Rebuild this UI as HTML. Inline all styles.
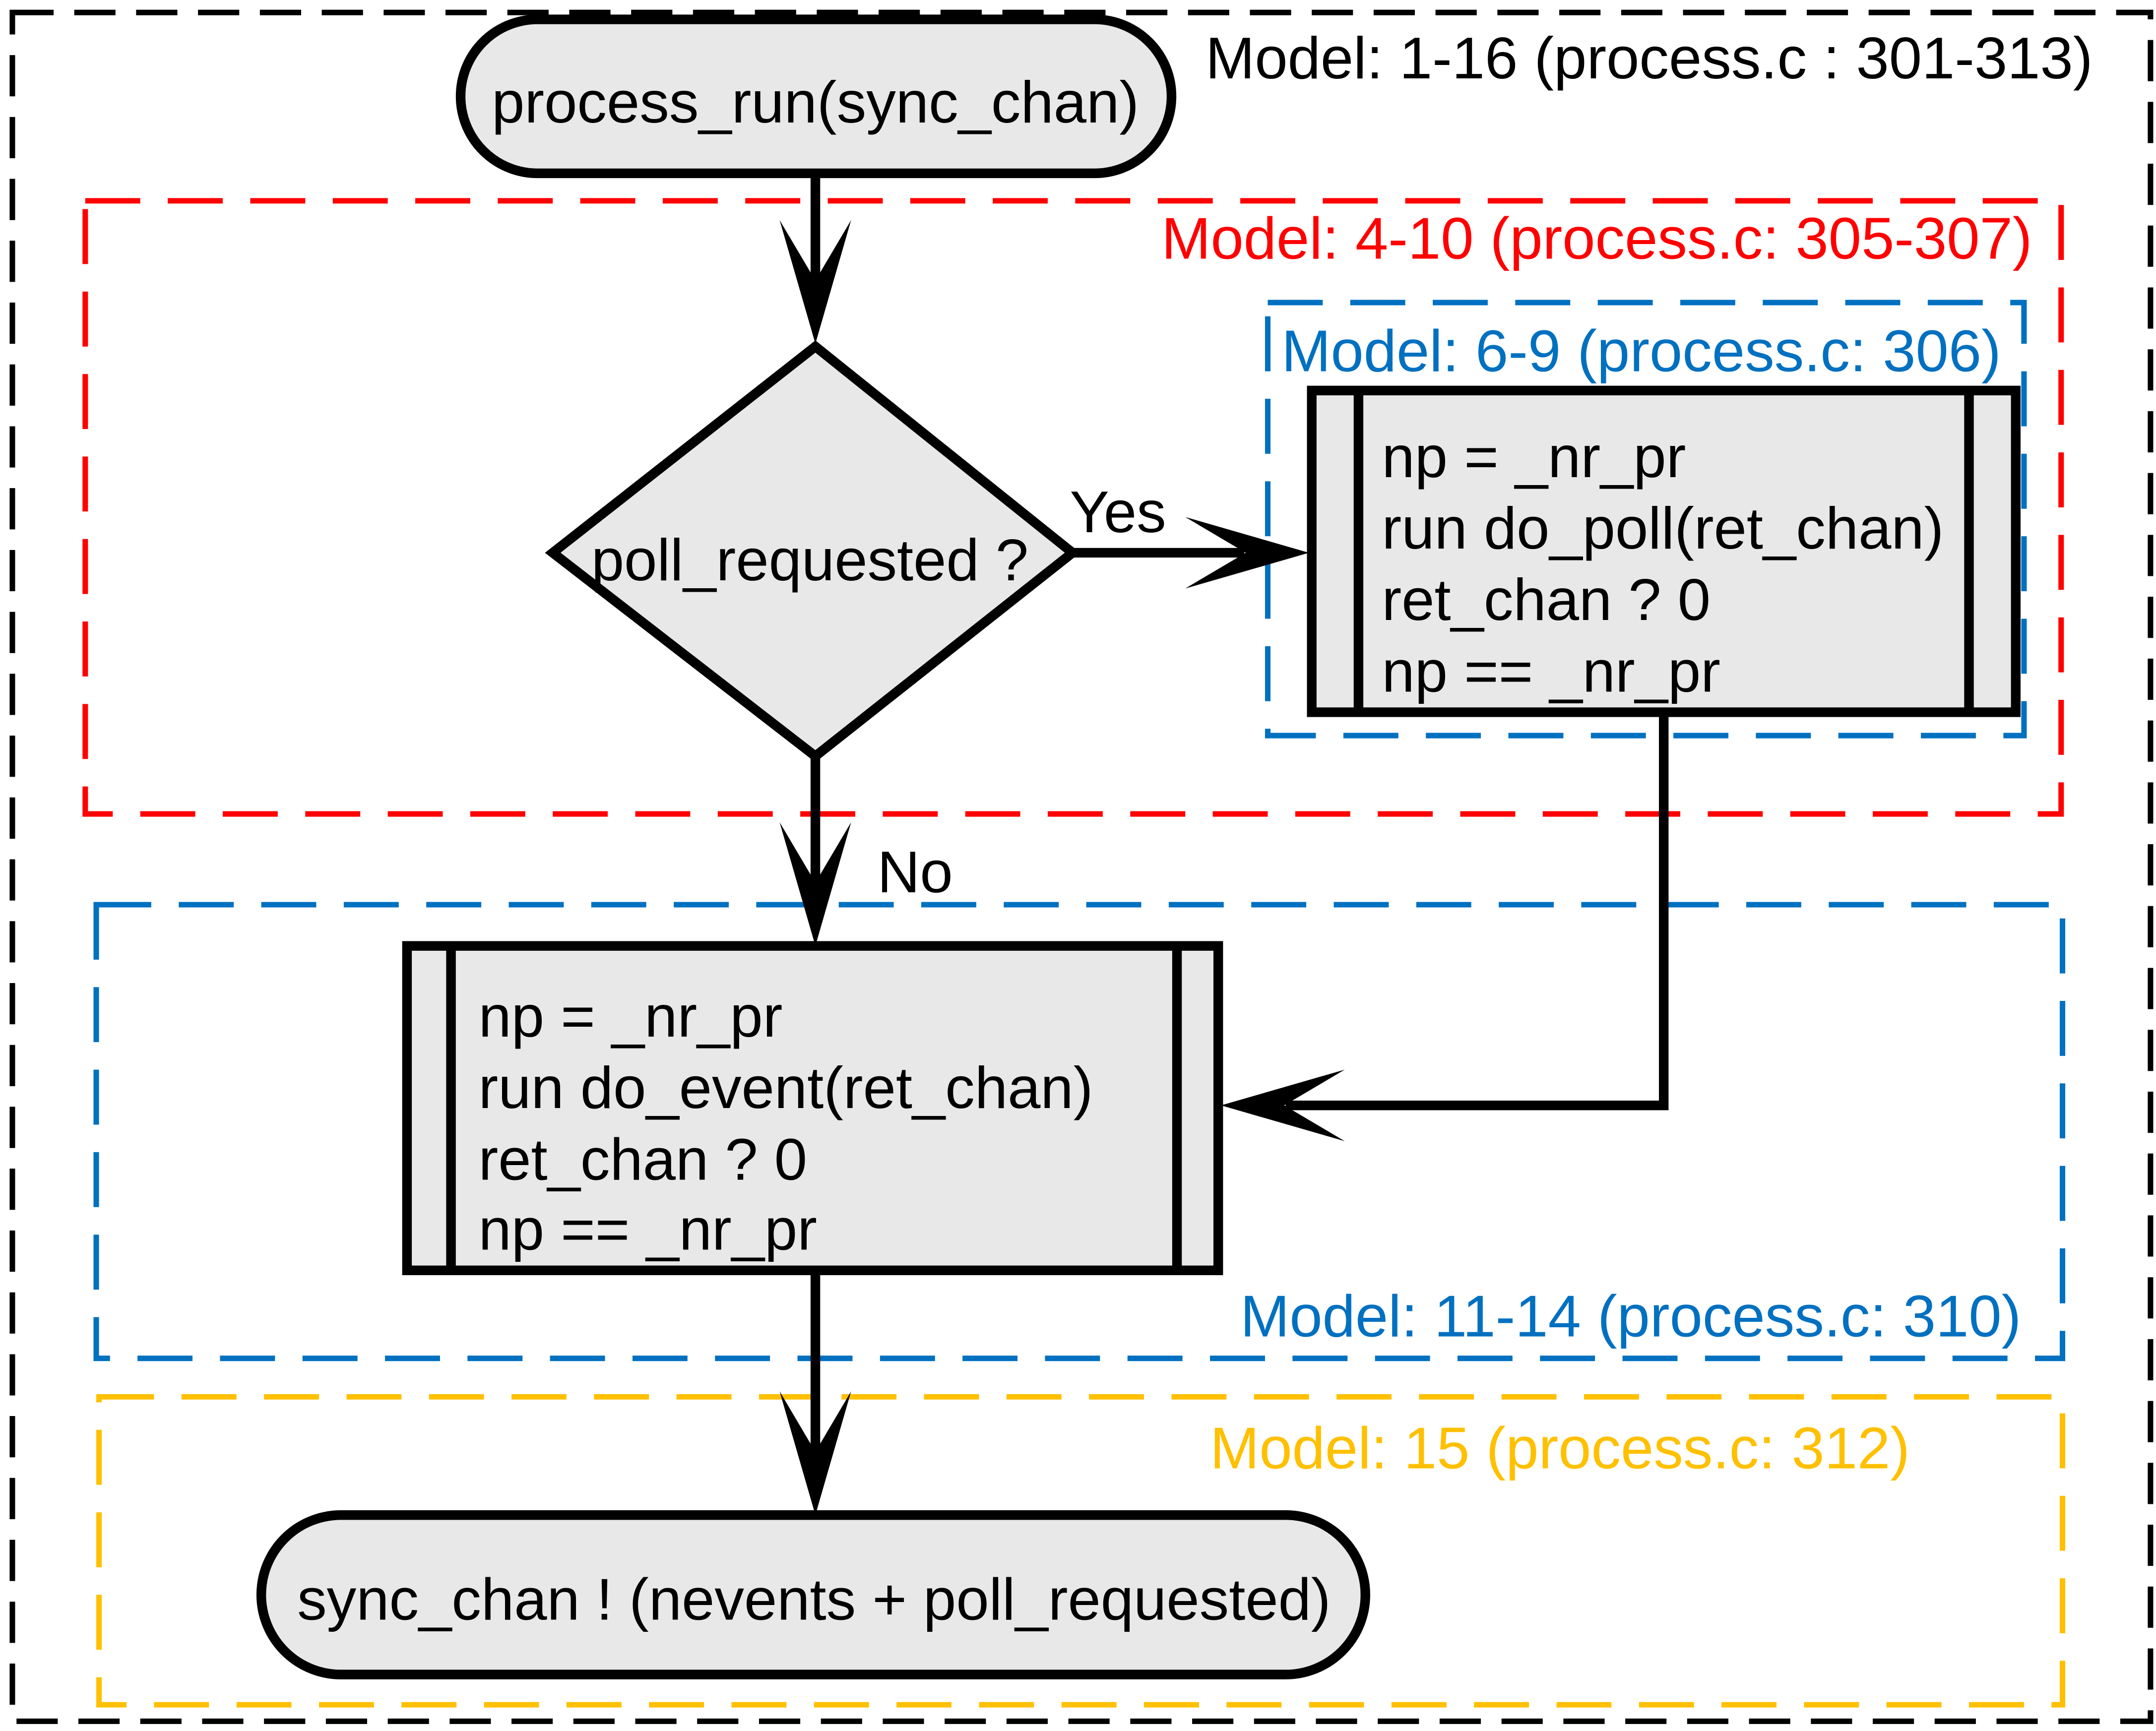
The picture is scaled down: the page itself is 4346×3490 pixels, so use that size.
<!DOCTYPE html>
<html><head><meta charset="utf-8"><style>html,body{margin:0;padding:0;background:#fff}svg{display:block}</style></head>
<body>
<svg width="4346" height="3490" viewBox="0 0 1568 1259" xmlns="http://www.w3.org/2000/svg" font-family="Liberation Sans, Arial, sans-serif">
<defs>
<path id="ah" d="M0,0 L-26,-90 L0,-46 L26,-90 Z" fill="#000"/>
</defs>
<rect width="1568" height="1259" fill="#fff"/>
<rect x="9" y="9" width="1555" height="1243" fill="none" stroke="#000" stroke-width="4" stroke-dasharray="30,15"/>
<text x="1522" y="57" font-size="43" text-anchor="end" fill="#000">Model: 1-16 (process.c : 301-313)</text>
<rect x="62" y="146" width="1437" height="446" fill="none" stroke="#ff0000" stroke-width="4" stroke-dasharray="40,20"/>
<text x="1478" y="188" font-size="43" text-anchor="end" fill="#ff0000">Model: 4-10 (process.c: 305-307)</text>
<rect x="922" y="220" width="550" height="315" fill="none" stroke="#0070c0" stroke-width="4" stroke-dasharray="40,20"/>
<text x="932" y="270" font-size="43" fill="#0070c0">Model: 6-9 (process.c: 306)</text>
<rect x="70" y="658" width="1430" height="330" fill="none" stroke="#0070c0" stroke-width="4" stroke-dasharray="40,20"/>
<text x="1470" y="972" font-size="43" text-anchor="end" fill="#0070c0">Model: 11-14 (process.c: 310)</text>
<rect x="72" y="1016" width="1428" height="224" fill="none" stroke="#ffc000" stroke-width="4" stroke-dasharray="40,20"/>
<text x="880" y="1068" font-size="43" fill="#ffc000">Model: 15 (process.c: 312)</text>

<g stroke="#000" stroke-width="7" fill="none">
<line x1="593" y1="126" x2="593" y2="215"/>
<line x1="780" y1="402" x2="905" y2="402"/>
<polyline points="1210,518 1210,804 935,804"/>
<line x1="593" y1="550" x2="593" y2="645"/>
<line x1="593" y1="924" x2="593" y2="1060"/>
</g>
<use href="#ah" transform="translate(593,250)"/>
<use href="#ah" transform="translate(952,402) rotate(-90)"/>
<use href="#ah" transform="translate(888,804) rotate(90)"/>
<use href="#ah" transform="translate(593,688)"/>
<use href="#ah" transform="translate(593,1102)"/>
<text x="778" y="387" font-size="43">Yes</text>
<text x="638" y="649" font-size="43">No</text>

<rect x="335" y="14" width="517" height="112" rx="56" fill="#e8e8e8" stroke="#000" stroke-width="7"/>
<text x="593" y="89" font-size="43" text-anchor="middle">process_run(sync_chan)</text>
<polygon points="593,252 780,402 593,550 402,402" fill="#e8e8e8" stroke="#000" stroke-width="7" stroke-linejoin="miter"/>
<text x="589" y="422" font-size="43" text-anchor="middle">poll_requested ?</text>
<rect x="954" y="284" width="512" height="234" fill="#e8e8e8" stroke="#000" stroke-width="7"/>
<line x1="988" y1="284" x2="988" y2="518" stroke="#000" stroke-width="7"/>
<line x1="1432" y1="284" x2="1432" y2="518" stroke="#000" stroke-width="7"/>
<g font-size="43">
<text x="1005" y="347">np = _nr_pr</text>
<text x="1005" y="399">run do_poll(ret_chan)</text>
<text x="1005" y="451">ret_chan ? 0</text>
<text x="1005" y="503">np == _nr_pr</text>
</g>
<rect x="296" y="688" width="590" height="236" fill="#e8e8e8" stroke="#000" stroke-width="7"/>
<line x1="328" y1="688" x2="328" y2="924" stroke="#000" stroke-width="7"/>
<line x1="856" y1="688" x2="856" y2="924" stroke="#000" stroke-width="7"/>
<g font-size="43">
<text x="348" y="754">np = _nr_pr</text>
<text x="348" y="806">run do_event(ret_chan)</text>
<text x="348" y="858">ret_chan ? 0</text>
<text x="348" y="909">np == _nr_pr</text>
</g>
<rect x="190" y="1102" width="803" height="116" rx="58" fill="#e8e8e8" stroke="#000" stroke-width="7"/>
<text x="592" y="1178" font-size="43" text-anchor="middle">sync_chan ! (nevents + poll_requested)</text>
</svg>
</body></html>
